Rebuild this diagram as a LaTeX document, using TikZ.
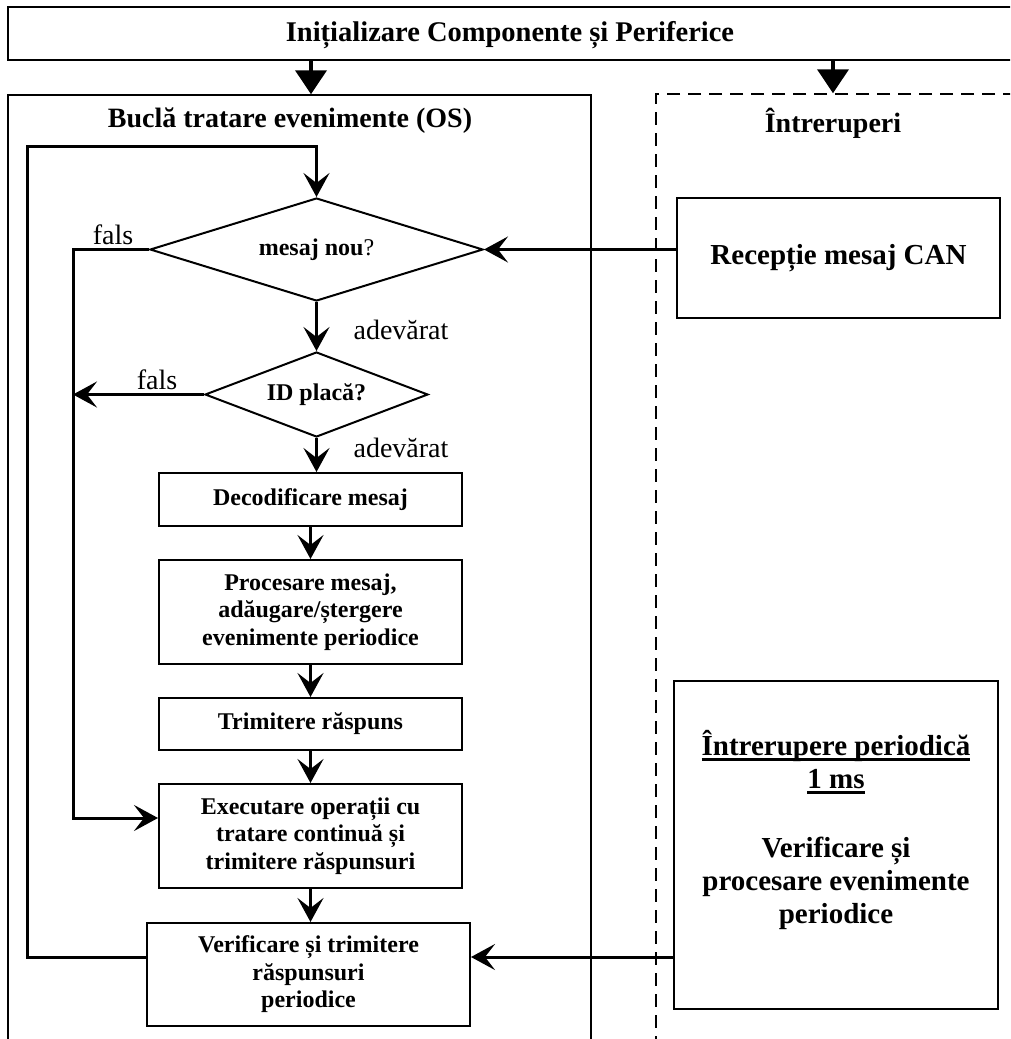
\documentclass[tikz,border=0pt]{standalone}
\usepackage{fontspec}
\setmainfont{Liberation Serif}
\usetikzlibrary{shapes.geometric,arrows.meta}

% font sizes used in the chart
\newcommand\topfont{\fontsize{28.5}{33}\selectfont\bfseries}
\newcommand\hdfont{\fontsize{28}{33}\selectfont\bfseries}
\newcommand\bxfont{\fontsize{24}{27.5}\selectfont\bfseries}
\newcommand\rtfont{\fontsize{29}{33}\selectfont\bfseries}
\newcommand\lbfont{\fontsize{28}{32}\selectfont}
% heavy underline
\newcommand\thickul[1]{\setbox0=\hbox{#1}\rlap{\rule[-5pt]{\wd0}{2.4pt}}\box0}

\tikzset{
  frame/.style={draw, line width=1.5pt, rectangle, inner sep=0pt},
  dframe/.style={frame, dash pattern=on 13pt off 8pt},
  stepbox/.style={draw, line width=2pt, rectangle, align=center, inner sep=2pt, font=\bxfont},
  intbox/.style={draw, line width=2pt, rectangle, align=center, inner sep=2pt, font=\rtfont},
  decision/.style={draw, line width=2pt, diamond, inner sep=0pt, font=\fontsize{24}{27.5}\selectfont},
  flow/.style={line width=3pt, -{Stealth[length=24pt,width=26pt,inset=10pt]}},
  feed/.style={line width=4pt, -{Triangle[length=24pt,width=31pt]}},
  lbl/.style={font=\lbfont, inner sep=0pt},
  hd/.style={font=\hdfont, inner sep=0pt},
}

\begin{document}
\begin{tikzpicture}[x=1pt,y=-1pt]
\useasboundingbox (0,0) rectangle (1010,1039);

% outer frames, partly running off the page
\begin{scope}
  \clip (0,0) rectangle (1010,1039);
  \node[frame, minimum width=1004pt, minimum height=53pt] (init) at (510,33.5) {};
  \node[frame, minimum width=583pt, minimum height=955pt] (loopframe) at (299.5,572.5) {};
  \node[dframe, minimum width=364pt, minimum height=955pt] (irqframe) at (838,571.5) {};
\end{scope}

\node[hd, font=\topfont] (inittxt) at (510,35) {Inițializare Componente și Periferice};
\node[hd] (looptitle) at (290,121) {Buclă tratare evenimente (OS)};
\node[hd] (irqtitle) at (833,123) {Întreruperi};

% main loop
\node[decision, shape aspect=3.23, minimum width=333pt, minimum height=103pt] (d1) at (316.5,249.5) {\textbf{mesaj nou}?};
\node[decision, shape aspect=2.62, minimum width=223pt, minimum height=85pt, font=\bxfont] (d2) at (316.5,394.5) {ID placă?};
\node[stepbox, minimum width=303pt, minimum height=53pt] (b1) at (310.5,499.5) {Decodificare mesaj};
\node[stepbox, minimum width=303pt, minimum height=104pt] (b2) at (310.5,612) {Procesare mesaj,\\adăugare/ștergere\\evenimente periodice};
\node[stepbox, minimum width=303pt, minimum height=52pt] (b3) at (310.5,724) {Trimitere răspuns};
\node[stepbox, minimum width=303pt, minimum height=104pt] (b4) at (310.5,836) {Executare operații cu\\tratare continuă și\\trimitere răspunsuri};
\node[stepbox, minimum width=323pt, minimum height=103pt] (b5) at (308.5,974.5) {Verificare și trimitere\\răspunsuri\\periodice};

% interrupt handlers
\node[intbox, minimum width=323pt, minimum height=120pt] (can) at (838.5,258) {\raisebox{-4pt}{Recepție mesaj CAN}};
\node[intbox, minimum width=324pt, minimum height=328pt] (per) at (836,845)
  {\thickul{Întrerupere periodică}\\\thickul{1 ms}\\[36pt]Verificare și\\procesare evenimente\\periodice\\[3pt]\mbox{}};

% labels
\node[lbl] (f1) at (113,235) {fals};
\node[lbl] (f2) at (157,380) {fals};
\node[lbl] (a1) at (401,330) {adevărat};
\node[lbl] (a2) at (401,448) {adevărat};

% routing points
\coordinate (ax1) at (311,0);
\coordinate (ax2) at (833,0);
\coordinate (ltop) at (27,146);
\coordinate (ret) at (0,957);
\coordinate (fcol) at (73,818);

% connectors
\draw[feed] (init.south -| ax1) -- (loopframe.north -| ax1);
\draw[feed] (init.south -| ax2) -- (irqframe.north -| ax2);

\draw[flow] (b5.west |- ret) -| (ltop) -- (d1.north |- ltop) -- (d1.north);
\draw[flow] (d1.west) -| (fcol) -- (b4.west |- fcol);
\draw[flow] (d2.west) -- (d2.west -| fcol);
\draw[flow] (d1.south) -- (d2.north);
\draw[flow] (d2.south) -- (d2.south |- b1.north);
\draw[flow] (b1) -- (b2);
\draw[flow] (b2) -- (b3);
\draw[flow] (b3) -- (b4);
\draw[flow] (b4.south) -- (b4.south |- b5.north);
\draw[flow] (can.west |- d1.east) -- (d1.east);
\draw[flow] (per.west |- ret) -- (b5.east |- ret);
\end{tikzpicture}
\end{document}
